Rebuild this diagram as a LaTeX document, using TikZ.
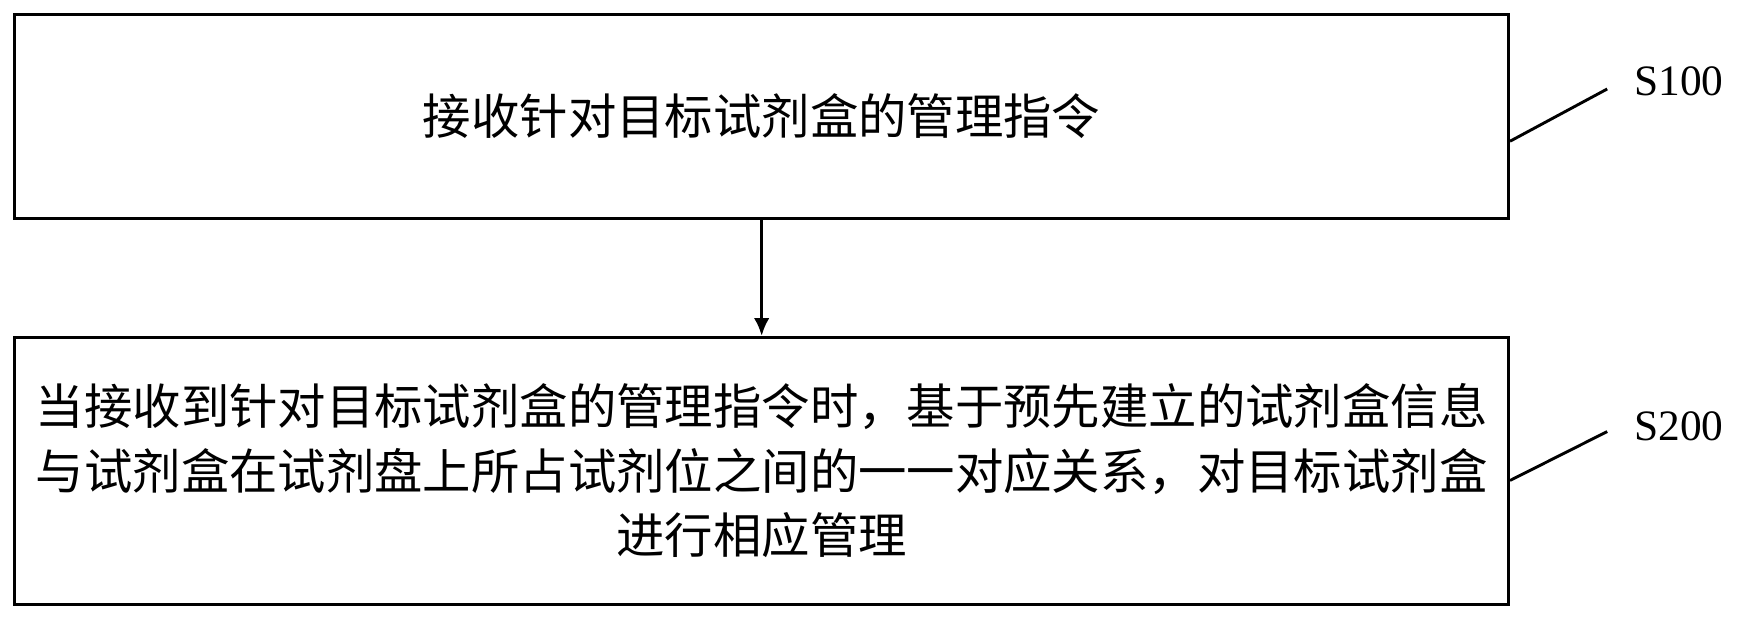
\documentclass[tikz,border=0pt]{standalone}
\usepackage{fontspec}
\setmainfont{Liberation Serif}
\newfontfamily\cjk{Noto Sans CJK SC}
\usetikzlibrary{arrows.meta}
\begin{document}
\begin{tikzpicture}[x=1pt,y=-1pt,
  stepbox/.style={draw,line width=2.6pt,anchor=north west,inner sep=0pt},
  conn/.style={line width=2.6pt},
  txt/.style={font=\cjk\fontsize{43.5}{58}\selectfont,align=center},
  lbl/.style={font=\fontsize{39}{40}\selectfont}]
\useasboundingbox (0,0) rectangle (1568,557);
\node[stepbox,minimum width=1343pt,minimum height=183pt] (b1) at (12,12) {};
\node[stepbox,minimum width=1343pt,minimum height=240pt] (b2) at (12,302) {};
\node[txt] (t1) at (b1.center) {接收针对目标试剂盒的管理指令};
\node[txt] (t2) at (b2.center) {当接收到针对目标试剂盒的管理指令时，基于预先建立的试剂盒信息\\与试剂盒在试剂盘上所占试剂位之间的一一对应关系，对目标试剂盒\\进行相应管理};
\draw[conn,-{Latex[length=16pt,width=14pt]}] (b1.south) -- (b2.north);
\node[lbl,anchor=west] (s1) at (1466,73) {S100};
\node[lbl,anchor=west] (s2) at (1466,383) {S200};
\coordinate (c1) at (1445,80);
\coordinate (c2) at (1445,388);
\draw[conn] (b1.east |- 0,127) -- (c1);
\draw[conn] (b2.east |- 0,432) -- (c2);
\end{tikzpicture}
\end{document}
